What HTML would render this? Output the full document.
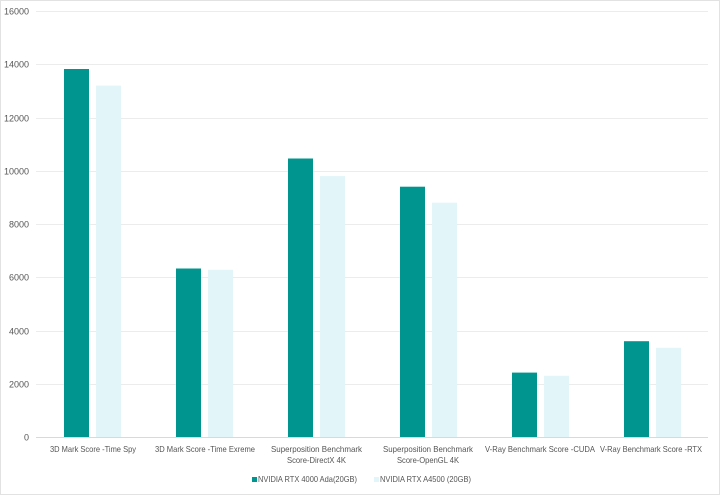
<!DOCTYPE html>
<html><head><meta charset="utf-8"><style>
html,body{margin:0;padding:0;background:#fff;}
svg{display:block;font-family:"Liberation Sans",sans-serif;}
</style></head><body>
<svg width="720" height="495" viewBox="0 0 720 495">
<rect x="0.5" y="0.5" width="719" height="494" fill="#fff" stroke="#e2e2e2"/>
<g stroke="#ececec" stroke-width="1">
<line x1="36" x2="708" y1="11.5" y2="11.5"/>
<line x1="36" x2="708" y1="64.5" y2="64.5"/>
<line x1="36" x2="708" y1="118.5" y2="118.5"/>
<line x1="36" x2="708" y1="171.5" y2="171.5"/>
<line x1="36" x2="708" y1="224.5" y2="224.5"/>
<line x1="36" x2="708" y1="277.5" y2="277.5"/>
<line x1="36" x2="708" y1="331.5" y2="331.5"/>
<line x1="36" x2="708" y1="384.5" y2="384.5"/>
</g>
<line x1="36" x2="708" y1="437.5" y2="437.5" stroke="#d9d9d9"/>
<g font-size="9" fill="#555" text-anchor="end">
<text x="29" y="14.5">16000</text>
<text x="29" y="67.5">14000</text>
<text x="29" y="121.5">12000</text>
<text x="29" y="174.5">10000</text>
<text x="29" y="227.5">8000</text>
<text x="29" y="280.5">6000</text>
<text x="29" y="334.5">4000</text>
<text x="29" y="387.5">2000</text>
<text x="29" y="440.5">0</text>
</g>
<g fill="#00968f">
<rect x="64" y="69" width="25" height="368"/>
<rect x="176" y="268.5" width="25" height="168.5"/>
<rect x="288" y="158.5" width="25" height="278.5"/>
<rect x="400" y="186.7" width="25" height="250.3"/>
<rect x="512" y="372.6" width="25" height="64.4"/>
<rect x="624" y="341.2" width="25" height="95.8"/>
</g>
<g fill="#e2f5f9">
<rect x="96" y="85.6" width="25" height="351.4"/>
<rect x="208" y="269.8" width="25" height="167.2"/>
<rect x="320" y="176.1" width="25" height="260.9"/>
<rect x="432" y="202.7" width="25" height="234.3"/>
<rect x="544" y="375.8" width="25" height="61.2"/>
<rect x="656" y="347.8" width="25" height="89.2"/>
</g>
<g font-size="8.5" fill="#555" lengthAdjust="spacingAndGlyphs">
<text x="50" y="452" textLength="86" lengthAdjust="spacingAndGlyphs">3D Mark Score -Time Spy</text>
<text x="155" y="452" textLength="100" lengthAdjust="spacingAndGlyphs">3D Mark Score -Time Exreme</text>
<text x="271" y="452" textLength="91" lengthAdjust="spacingAndGlyphs">Superposition Benchmark</text>
<text x="287" y="463" textLength="59" lengthAdjust="spacingAndGlyphs">Score-DirectX 4K</text>
<text x="383" y="452" textLength="90" lengthAdjust="spacingAndGlyphs">Superposition Benchmark</text>
<text x="397" y="463" textLength="62" lengthAdjust="spacingAndGlyphs">Score-OpenGL 4K</text>
<text x="485" y="452" textLength="110" lengthAdjust="spacingAndGlyphs">V-Ray Benchmark Score -CUDA</text>
<text x="600" y="452" textLength="102" lengthAdjust="spacingAndGlyphs">V-Ray Benchmark Score -RTX</text>
</g>
<rect x="252" y="477" width="5" height="5" fill="#00968f"/>
<text x="258" y="482" font-size="8.5" fill="#555" textLength="99" lengthAdjust="spacingAndGlyphs">NVIDIA RTX 4000 Ada(20GB)</text>
<rect x="374" y="477" width="5" height="5" fill="#e2f5f9"/>
<text x="380" y="482" font-size="8.5" fill="#555" textLength="91" lengthAdjust="spacingAndGlyphs">NVIDIA RTX A4500 (20GB)</text>
</svg>
</body></html>
